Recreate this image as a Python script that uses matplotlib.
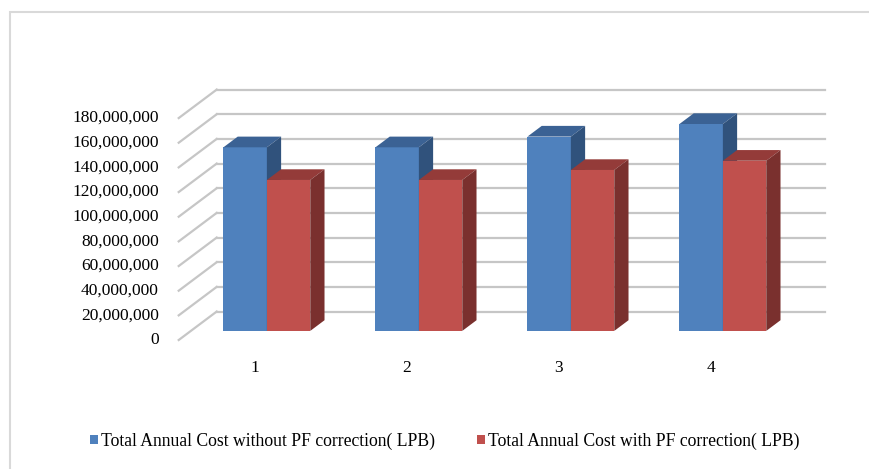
import numpy as np
import matplotlib.pyplot as plt
from matplotlib.patches import Polygon, Patch, Rectangle

# data
categories = ["1", "2", "3", "4"]
cost_without_pf = [148.9e6, 148.9e6, 157.6e6, 167.8e6]
cost_with_pf = [122.4e6, 122.4e6, 130.5e6, 138.0e6]
series_names = ["Total Annual Cost without PF correction( LPB)",
                "Total Annual Cost with PF correction( LPB)"]
yticks = np.arange(0, 180e6 + 1, 20e6)

plt.rcParams['font.family'] = ['Liberation Serif', 'DejaVu Serif']

# oblique projection: depth 0 = front edge of floor, 1 = back wall
DX = 0.25       # x shift (category units) for full depth
DY = 23.1e6     # y shift (value units) for full depth
D_FRONT = 0.32  # bar front face depth
D_BAR = 0.375   # bar thickness in depth
BAR_W = 0.2855

colors = [("#4F81BD", "#3B6294", "#30527C"),
          ("#C0504D", "#943B39", "#7A302E")]
grid_c = "#c6c6c6"

fig = plt.figure(figsize=(8.69, 4.69), dpi=100)
ax = fig.add_axes([0, 0, 1, 1])
ax.set_xlim(-0.6757, 5.0414)
ax.set_ylim(-104.6e6, 275.75e6)
ax.axis("off")

# chart frame (only left/top visible in the crop)
fig.patches.append(Rectangle((10 / 869, -0.1), 1.2, 1 - 12 / 469 + 0.1,
                             transform=fig.transFigure, fill=False,
                             edgecolor="#d9d9d9", linewidth=1.5))

x0, x1 = 0.5, len(categories) + 0.5
for v in yticks:
    ax.plot([x0, x0 + DX], [v, v + DY], color=grid_c, lw=1.6, zorder=1)
    ax.plot([x0 + DX, x1 + DX], [v + DY, v + DY], color=grid_c, lw=1.6, zorder=1)
    ax.text(x0 - 0.13, v, f"{int(v):,}", ha="right", va="center", fontsize=12.5)


def bar3d(xl, h, cols):
    front, top, side = cols
    sx, sy = DX * D_FRONT, DY * D_FRONT
    bx, by = DX * D_BAR, DY * D_BAR
    xa, xb = xl + sx, xl + BAR_W + sx
    y0, y1 = sy, h + sy
    ax.add_patch(Polygon([(xa, y0), (xb, y0), (xb, y1), (xa, y1)],
                         closed=True, facecolor=front, edgecolor="none", zorder=3))
    ax.add_patch(Polygon([(xa, y1), (xb, y1), (xb + bx, y1 + by), (xa + bx, y1 + by)],
                         closed=True, facecolor=top, edgecolor="none", zorder=3))
    ax.add_patch(Polygon([(xb, y0), (xb + bx, y0 + by), (xb + bx, y1 + by), (xb, y1)],
                         closed=True, facecolor=side, edgecolor="none", zorder=3))


for i, cat in enumerate(categories):
    xc = i + 1
    for k, vals in enumerate([cost_without_pf, cost_with_pf]):
        bar3d(xc - BAR_W + k * BAR_W, vals[i], colors[k])
    ax.text(xc, -22.7e6, cat, ha="center", va="center", fontsize=12.5)

handles = [Patch(facecolor=colors[0][0]), Patch(facecolor=colors[1][0])]
fig.legend(handles, series_names, loc="center", ncol=2,
           bbox_to_anchor=(0.512, 1 - 441 / 469), frameon=False,
           fontsize=12.7, handlelength=0.45, handleheight=0.45,
           handletextpad=0.15, columnspacing=2.4)

fig.savefig("out.png", dpi=100)
